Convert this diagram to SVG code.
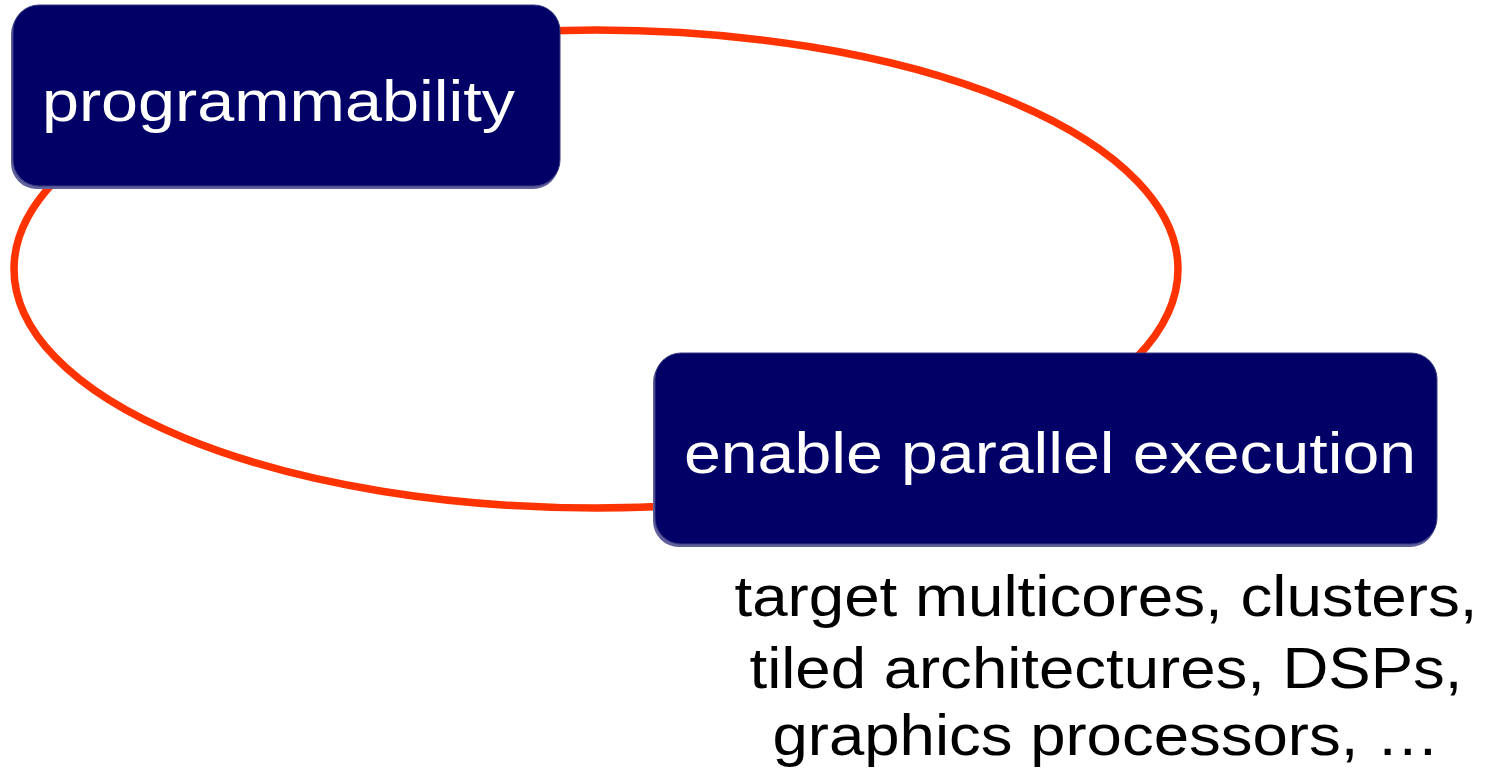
<svg xmlns="http://www.w3.org/2000/svg" width="1490" height="769" viewBox="0 0 1490 769">
  <style>
    .shadow { fill: #5f5f9c; }
    .box { fill: #000066; stroke: #3a3a80; stroke-width: 1; }
    .label { fill: #ffffff; font-family: "Liberation Sans", Arial, sans-serif; font-size: 58px; }
    .note { fill: #000000; font-family: "Liberation Sans", Arial, sans-serif; font-size: 57px; text-anchor: middle; }
    .loop { fill: none; stroke: #ff3300; stroke-width: 7.5; }
  </style>
  <rect width="1490" height="769" fill="#ffffff"/>
  <g id="connectors">
    <ellipse class="loop" cx="596" cy="269" rx="582" ry="239"/>
  </g>
  <g id="node-programmability">
    <rect class="shadow" x="11" y="8" width="548" height="181" rx="26"/>
    <rect class="box" x="13" y="5" width="547" height="181" rx="26"/>
    <text class="label" x="42" y="121" textLength="473" lengthAdjust="spacingAndGlyphs">programmability</text>
  </g>
  <g id="node-parallel">
    <rect class="shadow" x="653" y="356" width="783" height="191" rx="26"/>
    <rect class="box" x="655" y="353" width="782" height="191" rx="26"/>
    <text class="label" x="684" y="473" textLength="732" lengthAdjust="spacingAndGlyphs">enable parallel execution</text>
  </g>
  <g id="targets">
    <text class="note" x="1106" y="616" textLength="743" lengthAdjust="spacingAndGlyphs">target multicores, clusters,</text>
    <text class="note" x="1106" y="688" textLength="713" lengthAdjust="spacingAndGlyphs">tiled architectures, DSPs,</text>
    <text class="note" x="1106" y="755" textLength="667" lengthAdjust="spacingAndGlyphs">graphics processors, …</text>
  </g>
</svg>
